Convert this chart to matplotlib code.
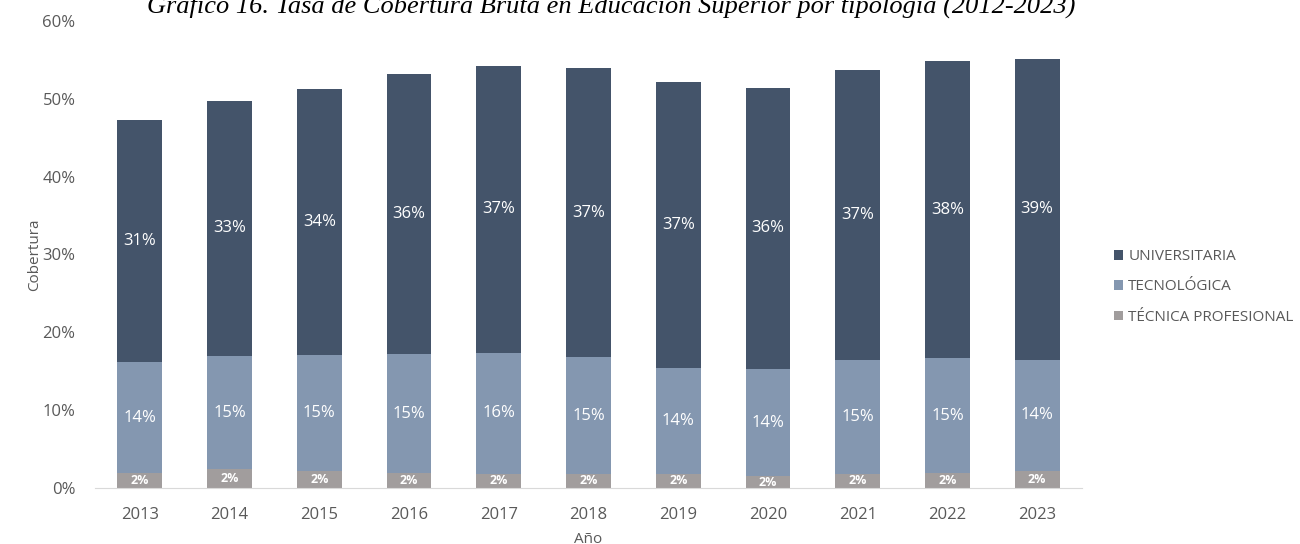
import matplotlib.pyplot as plt
import numpy as np

years = ['2013', '2014', '2015', '2016', '2017', '2018', '2019', '2020', '2021', '2022', '2023']
tecnica = [1.9, 2.4, 2.2, 1.9, 1.8, 1.8, 1.8, 1.5, 1.8, 1.9, 2.2]
tecnologica = [14.3, 14.6, 14.9, 15.3, 15.6, 15.0, 13.6, 13.8, 14.7, 14.8, 14.3]
universitaria = [31.1, 32.7, 34.1, 36.0, 36.8, 37.1, 36.7, 36.1, 37.2, 38.1, 38.6]

plt.rcParams['font.family'] = ['Open Sans', 'DejaVu Sans']

fig = plt.figure(figsize=(13, 5.44), dpi=100)
ax = fig.add_axes([95 / 1300, 1 - 488 / 544, (1082 - 95) / 1300, (488 - 21) / 544])

x = np.arange(len(years))
w = 0.5
c_tp, c_tn, c_un = '#A19D9D', '#8497B0', '#44546A'

b1 = ax.bar(x, tecnica, w, color=c_tp, label='TÉCNICA PROFESIONAL')
b2 = ax.bar(x, tecnologica, w, bottom=tecnica, color=c_tn, label='TECNOLÓGICA')
bottom3 = np.array(tecnica) + np.array(tecnologica)
b3 = ax.bar(x, universitaria, w, bottom=bottom3, color=c_un, label='UNIVERSITARIA')

for bars, vals, fs in [(b1, tecnica, 9), (b2, tecnologica, 12), (b3, universitaria, 12)]:
    ax.bar_label(bars, labels=[f'{v:.0f}%' for v in vals], label_type='center',
                 color='white', fontsize=fs, fontweight='bold' if fs == 9 else 'normal')

ax.set_ylim(0, 60)
ax.set_xlim(-0.5, len(years) - 0.5)
ax.set_yticks(np.arange(0, 61, 10))
ax.set_yticklabels([f'{v}%' for v in range(0, 61, 10)])
ax.set_xticks(x)
ax.set_xticklabels(years)
ax.tick_params(colors='#595959', labelsize=12, length=0)
ax.tick_params(axis='x', pad=14)
ax.tick_params(axis='y', pad=14)
for s in ['top', 'right', 'left']:
    ax.spines[s].set_visible(False)
ax.spines['bottom'].set_color('#D9D9D9')

ax.set_ylabel('Cobertura', color='#595959', fontsize=11)
ax.yaxis.set_label_coords(-53 / 987, 0.5)
ax.set_xlabel('Año', color='#595959', fontsize=11, labelpad=6)

handles = [b3, b2, b1]
fig.legend(handles, [h.get_label() for h in handles], loc='center left',
           bbox_to_anchor=(1100 / 1300, 1 - 287 / 544), frameon=False,
           fontsize=11, labelcolor='#595959', handlelength=0.6, handleheight=0.6,
           handletextpad=0.35, labelspacing=1.0)

fig.text(611 / 1300, 1 - 13 / 544,
         'Gráfico 16. Tasa de Cobertura Bruta en Educación Superior por tipología (2012-2023)',
         ha='center', va='baseline', fontsize=19, style='italic', family='Liberation Serif')

fig.savefig('out.png', dpi=100)
